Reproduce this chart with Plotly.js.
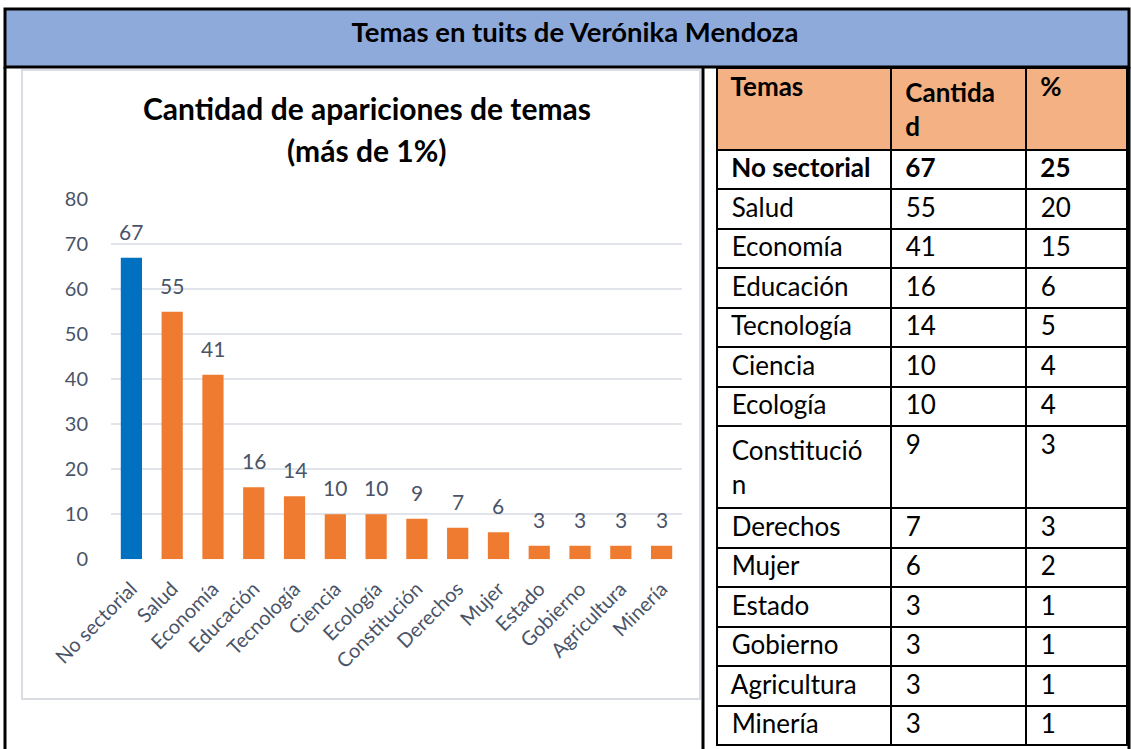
<!DOCTYPE html>
<html>
<head>
<meta charset="utf-8">
<script src="https://cdn.plot.ly/plotly-3.0.1.min.js"></script>
<style>html,body{margin:0;padding:0;background:#fff;}#chart{width:1131px;height:749px;}</style>
</head>
<body>
<div id="chart"></div>
<script>
var mainTitle = 'Temas en tuits de Verónika Mendoza';
var chartTitle1 = 'Cantidad de apariciones de temas';
var chartTitle2 = '(más de 1%)';
var categories = ['No sectorial','Salud','Economía','Educación','Tecnología','Ciencia','Ecología','Constitución','Derechos','Mujer','Estado','Gobierno','Agricultura','Minería'];
var counts = [67,55,41,16,14,10,10,9,7,6,3,3,3,3];
var percents = [25,20,15,6,5,4,4,3,3,2,1,1,1,1];
var tableHeaders = ['Temas','Cantida<br>d','%'];
var tableLabels = ['No sectorial','Salud','Economía','Educación','Tecnología','Ciencia','Ecología','Constitució<br>n','Derechos','Mujer','Estado','Gobierno','Agricultura','Minería'];
var yTicks = [0,10,20,30,40,50,60,70,80];

var W = 1131, H = 749;
function px(x){ return x / W; }
function py(y){ return 1 - y / H; }

var FONT = 'Lato, "Open Sans", sans-serif';
var SLATE = '#4a5468';
var NB = '\u00a0';

var barColors = categories.map(function(c, i){ return i === 0 ? '#0070c0' : '#ee7b30'; });

var bars = {
  type: 'bar',
  x: categories,
  y: counts,
  marker: {color: barColors, line: {width: 0}},
  width: 0.52,
  hoverinfo: 'x+y',
  showlegend: false,
  xaxis: 'x', yaxis: 'y'
};

function pad(s){ return NB + String(s).split('<br>').join('<br>' + NB); }
var weights = categories.map(function(c, i){ return i === 0 ? 700 : 400; });
var table = {
  type: 'table',
  domain: {x: [px(717), px(1127)], y: [0, py(68)]},
  columnwidth: [174, 135, 101],
  header: {
    values: tableHeaders.map(pad),
    align: 'left',
    height: 72,
    fill: {color: '#f4b183'},
    line: {color: '#000', width: 2},
    font: {family: FONT, size: 26, color: '#000', weight: 700}
  },
  cells: {
    values: [
      tableLabels.map(pad),
      counts.map(pad),
      percents.map(pad)
    ],
    align: 'left',
    height: 39.5,
    fill: {color: '#fff'},
    line: {color: '#000', width: 2},
    font: {family: FONT, size: 26, color: '#000', weight: [weights, weights, weights]}
  }
};

var annotations = [
  {xref: 'paper', yref: 'paper', x: px(367), y: py(108), text: '<b>' + chartTitle1 + '</b>', showarrow: false,
   font: {family: FONT, size: 30, color: '#000'}, xanchor: 'center', yanchor: 'middle'},
  {xref: 'paper', yref: 'paper', x: px(367), y: py(150), text: '<b>' + chartTitle2 + '</b>', showarrow: false,
   font: {family: FONT, size: 30, color: '#000'}, xanchor: 'center', yanchor: 'middle'}
];
categories.forEach(function(c, i){
  annotations.push({
    xref: 'x', yref: 'y', x: c, y: counts[i], text: String(counts[i]), showarrow: false,
    yanchor: 'bottom', yshift: 12, font: {family: FONT, size: 21, color: SLATE}
  });
});

var shapes = [
  {type: 'rect', xref: 'paper', yref: 'paper', x0: px(5), x1: px(1129), y0: py(67), y1: py(9),
   fillcolor: '#8eaadb', line: {color: '#000', width: 3}, layer: 'below'},
  {type: 'line', xref: 'paper', yref: 'paper', x0: px(5), x1: px(5), y0: 0, y1: py(67), line: {color: '#000', width: 3}},
  {type: 'line', xref: 'paper', yref: 'paper', x0: px(703), x1: px(703), y0: 0, y1: py(67), line: {color: '#000', width: 3}},
  {type: 'line', xref: 'paper', yref: 'paper', x0: px(1129), x1: px(1129), y0: 0, y1: py(67), line: {color: '#000', width: 3}},
  {type: 'rect', xref: 'paper', yref: 'paper', x0: px(22), x1: px(700), y0: py(699), y1: py(70),
   line: {color: '#d9dde3', width: 2}, layer: 'below'}
];

var layout = {
  width: W, height: H,
  margin: {l: 0, r: 0, t: 0, b: 0},
  paper_bgcolor: '#fff', plot_bgcolor: 'rgba(0,0,0,0)',
  title: {text: '<b>' + mainTitle + '</b>', x: px(575), xanchor: 'center', y: py(32), yanchor: 'middle',
          font: {family: FONT, size: 27.5, color: '#000'}},
  xaxis: {domain: [px(111), px(682)], type: 'category', tickangle: -45, showgrid: false, zeroline: false,
          showline: false, ticks: '', ticklabelstandoff: 13, tickfont: {family: FONT, size: 20, color: SLATE}, fixedrange: true},
  yaxis: {domain: [py(559.3), py(199.3)], range: [0, 80], tickvals: yTicks, showgrid: true, gridcolor: '#e1e5eb', gridwidth: 2,
          zeroline: false, showline: false, ticks: '', ticklabelstandoff: 22,
          tickfont: {family: FONT, size: 20, color: SLATE}, fixedrange: true},
  annotations: annotations,
  shapes: shapes,
  showlegend: false
};

Plotly.newPlot('chart', [bars, table], layout, {staticPlot: true, displayModeBar: false});
</script>
</body>
</html>
